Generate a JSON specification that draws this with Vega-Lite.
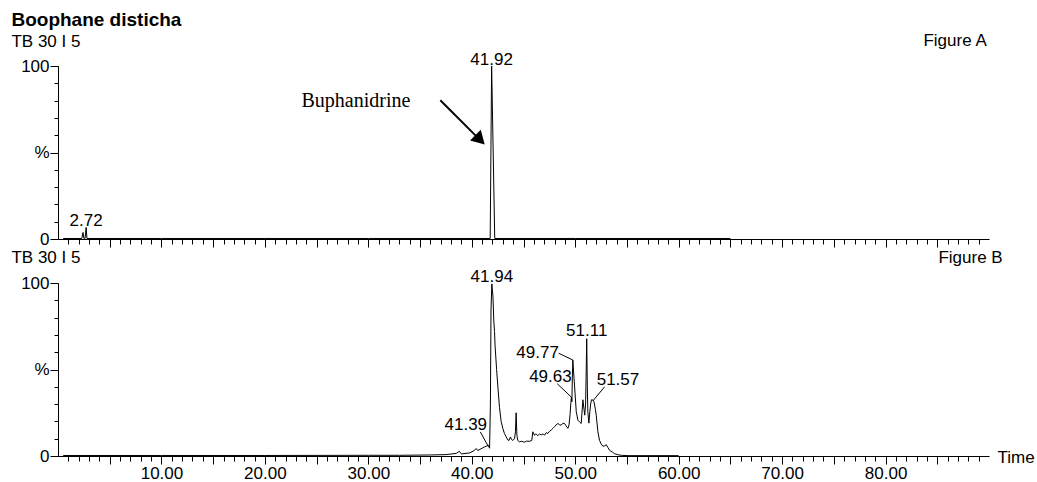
{
  "$schema": "https://vega.github.io/schema/vega-lite/v6.json",
  "padding": {"left": 11, "top": 11, "right": 2, "bottom": 2},
  "background": "white",
  "bounds": "flush",
  "spacing": 44,
  "title": {"text": "Boophane disticha", "anchor": "start", "frame": "bounds", "font": "Liberation Sans", "fontSize": 19, "fontWeight": "bold", "color": "black", "offset": 2},
  "config": {
    "view": {"stroke": null},
    "font": "Liberation Sans",
    "axis": {"domainColor": "black", "tickColor": "black", "labelColor": "black", "labelFont": "Liberation Sans", "labelFontSize": 17, "grid": false, "domainWidth": 1, "tickWidth": 1, "labelOverlap": false, "labelFlush": false}
  },
  "datasets": {
    "traceA": [
      {"time": 0.5, "pct": 0.3}, {"time": 2.3, "pct": 0.3}, {"time": 2.42, "pct": 3.8}, {"time": 2.5, "pct": 0.4}, {"time": 2.62, "pct": 0.4}, {"time": 2.72, "pct": 6.7}, {"time": 2.8, "pct": 0.3}, {"time": 10, "pct": 0.3}, {"time": 20, "pct": 0.3}, {"time": 30, "pct": 0.3}, {"time": 41.78, "pct": 0.3}, {"time": 41.92, "pct": 100}, {"time": 42.22, "pct": 0.3}, {"time": 50, "pct": 0.3}, {"time": 65, "pct": 0.3}
    ],
    "traceB": [
      {"time": 0.5, "pct": 0.3}, {"time": 10, "pct": 0.3}, {"time": 20, "pct": 0.3}, {"time": 30, "pct": 0.4}, {"time": 33, "pct": 0.4}, {"time": 36, "pct": 0.6}, {"time": 37.5, "pct": 0.8}, {"time": 38.5, "pct": 1.5}, {"time": 38.8, "pct": 2.7}, {"time": 39.0, "pct": 1.2}, {"time": 39.8, "pct": 1.8}, {"time": 40.25, "pct": 3.2}, {"time": 40.4, "pct": 4.3}, {"time": 40.6, "pct": 3.2}, {"time": 41.0, "pct": 4.5}, {"time": 41.2, "pct": 5.2}, {"time": 41.39, "pct": 5.6}, {"time": 41.6, "pct": 6.2}, {"time": 41.72, "pct": 4.5}, {"time": 41.8, "pct": 30}, {"time": 41.86, "pct": 85}, {"time": 41.94, "pct": 99.5}, {"time": 42.05, "pct": 92}, {"time": 42.13, "pct": 78}, {"time": 42.2, "pct": 72}, {"time": 42.25, "pct": 64}, {"time": 42.4, "pct": 50}, {"time": 42.51, "pct": 41}, {"time": 42.68, "pct": 28}, {"time": 42.84, "pct": 20}, {"time": 43.0, "pct": 16}, {"time": 43.16, "pct": 13}, {"time": 43.48, "pct": 9.3}, {"time": 43.6, "pct": 9}, {"time": 43.74, "pct": 11}, {"time": 43.85, "pct": 9.5}, {"time": 43.97, "pct": 9}, {"time": 44.13, "pct": 10}, {"time": 44.22, "pct": 14}, {"time": 44.29, "pct": 25}, {"time": 44.36, "pct": 12}, {"time": 44.45, "pct": 9}, {"time": 44.6, "pct": 8.2}, {"time": 44.8, "pct": 8.5}, {"time": 45.1, "pct": 8.0}, {"time": 45.3, "pct": 8.6}, {"time": 45.58, "pct": 8.5}, {"time": 45.8, "pct": 9}, {"time": 45.9, "pct": 14}, {"time": 46.06, "pct": 12}, {"time": 46.2, "pct": 12.8}, {"time": 46.38, "pct": 11.8}, {"time": 46.55, "pct": 12.7}, {"time": 46.71, "pct": 12.2}, {"time": 46.9, "pct": 12.8}, {"time": 47.03, "pct": 12}, {"time": 47.2, "pct": 13.5}, {"time": 47.35, "pct": 13}, {"time": 47.5, "pct": 14.2}, {"time": 47.68, "pct": 15}, {"time": 47.85, "pct": 16}, {"time": 48.0, "pct": 16.9}, {"time": 48.15, "pct": 18}, {"time": 48.32, "pct": 18.8}, {"time": 48.5, "pct": 18}, {"time": 48.64, "pct": 17.8}, {"time": 48.8, "pct": 18.9}, {"time": 48.97, "pct": 18.8}, {"time": 49.1, "pct": 17.5}, {"time": 49.29, "pct": 16}, {"time": 49.4, "pct": 18}, {"time": 49.5, "pct": 24}, {"time": 49.58, "pct": 31}, {"time": 49.63, "pct": 34}, {"time": 49.68, "pct": 31.4}, {"time": 49.72, "pct": 45}, {"time": 49.77, "pct": 55.5}, {"time": 49.85, "pct": 48}, {"time": 49.93, "pct": 41}, {"time": 50.1, "pct": 25.6}, {"time": 50.26, "pct": 20.7}, {"time": 50.45, "pct": 19.5}, {"time": 50.58, "pct": 18.8}, {"time": 50.74, "pct": 32.5}, {"time": 50.85, "pct": 27}, {"time": 50.92, "pct": 23.6}, {"time": 51.0, "pct": 29.5}, {"time": 51.05, "pct": 45}, {"time": 51.11, "pct": 67.8}, {"time": 51.17, "pct": 40}, {"time": 51.22, "pct": 25.6}, {"time": 51.32, "pct": 19}, {"time": 51.42, "pct": 26}, {"time": 51.48, "pct": 29.5}, {"time": 51.57, "pct": 32.5}, {"time": 51.7, "pct": 32.4}, {"time": 51.81, "pct": 31.4}, {"time": 51.95, "pct": 27}, {"time": 52.03, "pct": 23.6}, {"time": 52.19, "pct": 14}, {"time": 52.35, "pct": 9}, {"time": 52.5, "pct": 7}, {"time": 52.68, "pct": 5.6}, {"time": 52.85, "pct": 5.9}, {"time": 53.0, "pct": 6.5}, {"time": 53.15, "pct": 5}, {"time": 53.32, "pct": 3.3}, {"time": 53.6, "pct": 2.2}, {"time": 53.81, "pct": 1.3}, {"time": 54.1, "pct": 0.8}, {"time": 54.45, "pct": 0.4}, {"time": 55.1, "pct": 0.2}, {"time": 60, "pct": 0.2}
    ],
    "labelsA": [
      {"time": 41.92, "pct": 100.6, "label": "41.92"},
      {"time": 2.72, "pct": 7.7, "label": "2.72"}
    ],
    "labelsB": [
      {"time": 41.94, "pct": 100.6, "label": "41.94"},
      {"time": 51.11, "pct": 69.1, "label": "51.11"},
      {"time": 46.36, "pct": 56.5, "label": "49.77"},
      {"time": 47.6, "pct": 42.9, "label": "49.63"},
      {"time": 39.42, "pct": 14.9, "label": "41.39"},
      {"time": 54.13, "pct": 41.0, "label": "51.57"}
    ],
    "leadersB": [
      {"time": 40.83, "pct": 13.9, "time2": 41.6, "pct2": 5.5},
      {"time": 48.4, "pct": 59.4, "time2": 49.77, "pct2": 55.5},
      {"time": 48.26, "pct": 41.8, "time2": 49.63, "pct2": 34},
      {"time": 52.84, "pct": 40.0, "time2": 51.71, "pct2": 31.9}
    ],
    "arrowA": [
      {"time": 36.96, "pct": 80.2, "time2": 40.4, "pct2": 59.6}
    ],
    "arrowHeadA": [
      {"time": 40.8, "pct": 57.3}
    ],
    "compoundA": [
      {"time": 23.54, "pct": 76.5, "label": "Buphanidrine"}
    ],
    "headersA": [
      {"time": -4.5, "pct": 110.7, "label": "TB 30 I 5"},
      {"time": 83.66, "pct": 111.5, "label": "Figure A"}
    ],
    "headersB": [
      {"time": -4.5, "pct": 111.6, "label": "TB 30 I 5"},
      {"time": 85.11, "pct": 111.4, "label": "Figure B"}
    ]
  },
  "vconcat": [
    {
      "width": 931,
      "height": 173,
      "resolve": {"axis": {"x": "independent", "y": "independent"}},
      "layer": [
        {
          "data": {"name": "traceA"},
          "mark": {"type": "line", "color": "black", "strokeWidth": 1},
          "encoding": {
            "x": {"field": "time", "type": "quantitative", "scale": {"domain": [0, 90], "nice": false},
              "axis": {"orient": "bottom", "values": [1,2,3,4,5,6,7,8,9,10,11,12,13,14,15,16,17,18,19,20,21,22,23,24,25,26,27,28,29,30,31,32,33,34,35,36,37,38,39,40,41,42,43,44,45,46,47,48,49,50,51,52,53,54,55,56,57,58,59,60,61,62,63,64,65,66,67,68,69,70,71,72,73,74,75,76,77,78,79,80,81,82,83,84,85,86,87,88,89],
                "labels": false, "title": null, "tickSize": 5}},
            "y": {"field": "pct", "type": "quantitative", "scale": {"domain": [0, 100], "nice": false},
              "axis": {"orient": "left", "values": [0,10,20,30,40,50,60,70,80,90,100], "title": null, "labels": false, "tickSize": 4}}
          }
        },
        {
          "data": {"name": "labelsA"},
          "mark": {"type": "text", "align": "center", "baseline": "alphabetic", "fontSize": 17, "color": "black", "font": "Liberation Sans"},
          "encoding": {
            "x": {"field": "time", "type": "quantitative", "scale": {"domain": [0, 90], "nice": false},
              "axis": {"orient": "bottom", "values": [5,10,15,20,25,30,35,40,45,50,55,60,65,70,75,80,85], "labels": false, "title": null, "tickSize": 8, "domain": false}},
            "y": {"field": "pct", "type": "quantitative", "scale": {"domain": [0, 100], "nice": false},
              "axis": {"orient": "left", "values": [0, 50, 100], "title": null, "tickSize": 8, "domain": false, "labelPadding": 1,
                "labelExpr": "datum.value === 50 ? '%' : datum.label"}},
            "text": {"field": "label", "type": "nominal"}
          }
        },
        {
          "data": {"name": "arrowA"},
          "mark": {"type": "rule", "color": "black", "strokeWidth": 2},
          "encoding": {
            "x": {"field": "time", "type": "quantitative", "scale": {"domain": [0, 90], "nice": false}, "axis": null},
            "y": {"field": "pct", "type": "quantitative", "scale": {"domain": [0, 100], "nice": false}, "axis": null},
            "x2": {"field": "time2"},
            "y2": {"field": "pct2"}
          }
        },
        {
          "data": {"name": "arrowHeadA"},
          "mark": {"type": "point", "shape": "triangle-up", "filled": true, "size": 230, "angle": 135, "color": "black", "opacity": 1},
          "encoding": {
            "x": {"field": "time", "type": "quantitative", "scale": {"domain": [0, 90], "nice": false}, "axis": null},
            "y": {"field": "pct", "type": "quantitative", "scale": {"domain": [0, 100], "nice": false}, "axis": null}
          }
        },
        {
          "data": {"name": "compoundA"},
          "mark": {"type": "text", "align": "left", "baseline": "alphabetic", "fontSize": 20, "color": "black", "font": "Liberation Serif"},
          "encoding": {
            "x": {"field": "time", "type": "quantitative", "scale": {"domain": [0, 90], "nice": false}, "axis": null},
            "y": {"field": "pct", "type": "quantitative", "scale": {"domain": [0, 100], "nice": false}, "axis": null},
            "text": {"field": "label", "type": "nominal"}
          }
        },
        {
          "data": {"name": "headersA"},
          "mark": {"type": "text", "align": "left", "baseline": "alphabetic", "fontSize": 17, "color": "black", "font": "Liberation Sans"},
          "encoding": {
            "x": {"field": "time", "type": "quantitative", "scale": {"domain": [0, 90], "nice": false}, "axis": null},
            "y": {"field": "pct", "type": "quantitative", "scale": {"domain": [0, 100], "nice": false}, "axis": null},
            "text": {"field": "label", "type": "nominal"}
          }
        }
      ]
    },
    {
      "width": 931,
      "height": 173,
      "resolve": {"axis": {"x": "independent", "y": "independent"}},
      "layer": [
        {
          "data": {"name": "traceB"},
          "mark": {"type": "line", "color": "black", "strokeWidth": 1},
          "encoding": {
            "x": {"field": "time", "type": "quantitative", "scale": {"domain": [0, 90], "nice": false},
              "axis": {"orient": "bottom", "values": [1,2,3,4,5,6,7,8,9,10,11,12,13,14,15,16,17,18,19,20,21,22,23,24,25,26,27,28,29,30,31,32,33,34,35,36,37,38,39,40,41,42,43,44,45,46,47,48,49,50,51,52,53,54,55,56,57,58,59,60,61,62,63,64,65,66,67,68,69,70,71,72,73,74,75,76,77,78,79,80,81,82,83,84,85,86,87,88,89],
                "labels": false, "tickSize": 5,
                "title": "Time", "titleFont": "Liberation Sans", "titleFontSize": 17, "titleFontWeight": "normal", "titleColor": "black",
                "titleAngle": 0, "titleAlign": "left", "titleBaseline": "middle", "titleX": 939, "titleY": 1}},
            "y": {"field": "pct", "type": "quantitative", "scale": {"domain": [0, 100], "nice": false},
              "axis": {"orient": "left", "values": [0,10,20,30,40,50,60,70,80,90,100], "title": null, "labels": false, "tickSize": 4}}
          }
        },
        {
          "data": {"name": "labelsB"},
          "mark": {"type": "text", "align": "center", "baseline": "alphabetic", "fontSize": 17, "color": "black", "font": "Liberation Sans"},
          "encoding": {
            "x": {"field": "time", "type": "quantitative", "scale": {"domain": [0, 90], "nice": false},
              "axis": {"orient": "bottom", "values": [5,10,15,20,25,30,35,40,45,50,55,60,65,70,75,80,85], "title": null, "tickSize": 8, "domain": false, "labelPadding": 1,
                "labelExpr": "datum.value % 10 === 0 ? format(datum.value, '.2f') : ''"}},
            "y": {"field": "pct", "type": "quantitative", "scale": {"domain": [0, 100], "nice": false},
              "axis": {"orient": "left", "values": [0, 50, 100], "title": null, "tickSize": 8, "domain": false, "labelPadding": 1,
                "labelExpr": "datum.value === 50 ? '%' : datum.label"}},
            "text": {"field": "label", "type": "nominal"}
          }
        },
        {
          "data": {"name": "leadersB"},
          "mark": {"type": "rule", "color": "black", "strokeWidth": 1},
          "encoding": {
            "x": {"field": "time", "type": "quantitative", "scale": {"domain": [0, 90], "nice": false}, "axis": null},
            "y": {"field": "pct", "type": "quantitative", "scale": {"domain": [0, 100], "nice": false}, "axis": null},
            "x2": {"field": "time2"},
            "y2": {"field": "pct2"}
          }
        },
        {
          "data": {"name": "headersB"},
          "mark": {"type": "text", "align": "left", "baseline": "alphabetic", "fontSize": 17, "color": "black", "font": "Liberation Sans"},
          "encoding": {
            "x": {"field": "time", "type": "quantitative", "scale": {"domain": [0, 90], "nice": false}, "axis": null},
            "y": {"field": "pct", "type": "quantitative", "scale": {"domain": [0, 100], "nice": false}, "axis": null},
            "text": {"field": "label", "type": "nominal"}
          }
        }
      ]
    }
  ]
}
